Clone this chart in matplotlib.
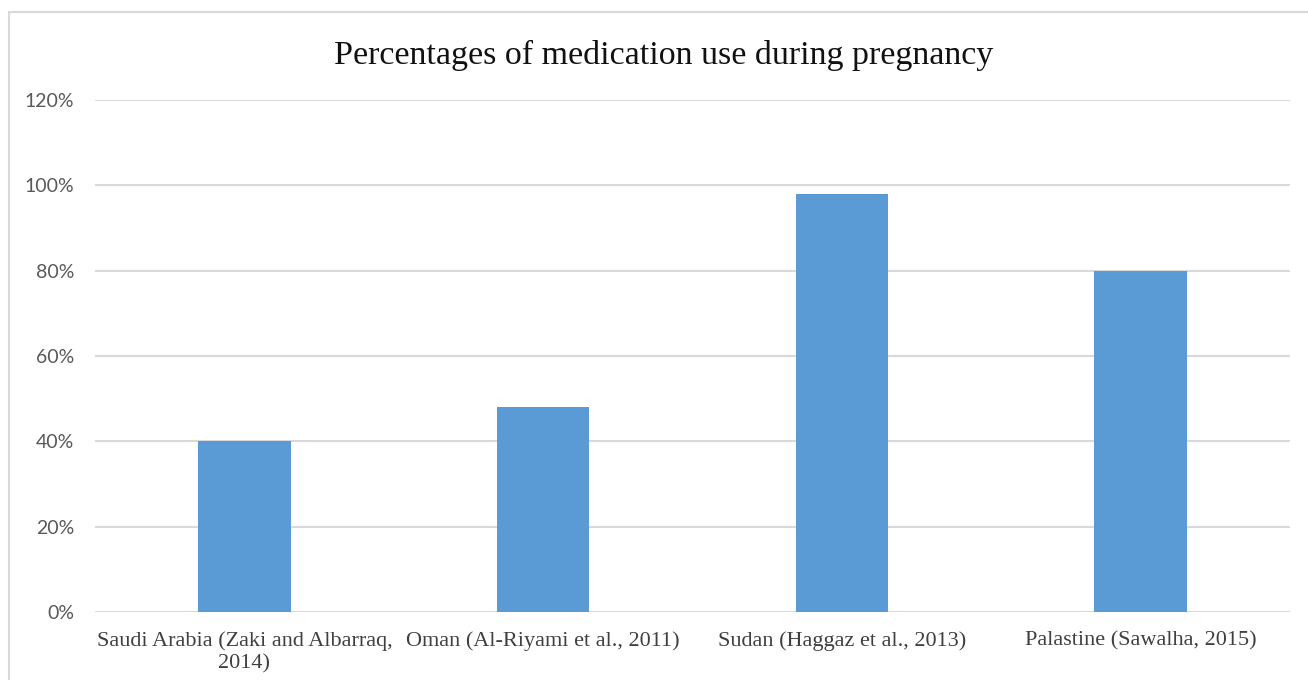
import matplotlib.pyplot as plt
from matplotlib.patches import Rectangle
from matplotlib.ticker import PercentFormatter

studies = ['Saudi Arabia (Zaki and Albarraq,\n2014)', 'Oman (Al-Riyami et al., 2011)',
           'Sudan (Haggaz et al., 2013)', 'Palastine (Sawalha, 2015)']
use_pct = [40, 48, 98, 80]
y_ticks = [0, 20, 40, 60, 80, 100, 120]

fig = plt.figure(figsize=(13.08, 6.8), dpi=100)
ax = fig.add_axes([95 / 1308, 0.1, 1195 / 1308, 0.753])

# outer chart frame, cut off at the right and bottom
fig.patches.append(Rectangle((9 / 1308, -0.05), 1.1, 1 - 12 / 680 + 0.05,
                             transform=fig.transFigure, fill=False,
                             edgecolor='#d9d9d9', linewidth=1.5))

x = range(len(studies))
ax.bar(x, use_pct, width=0.31, color='#5b9bd5', zorder=2)

ax.set_xlim(-0.5, len(studies) - 0.5)
ax.set_ylim(0, 120)
ax.set_yticks(y_ticks)
ax.yaxis.set_major_formatter(PercentFormatter(decimals=0))
ax.grid(axis='y', color='#d9d9d9', linewidth=1.5, zorder=0)
ax.set_axisbelow(True)
for s in ax.spines.values():
    s.set_visible(False)
ax.tick_params(length=0)
ax.tick_params(axis='y', pad=15, labelsize=14, labelcolor='#595959')
ax.set_yticklabels([f'{v}%' for v in y_ticks], fontfamily='Lato')
ax.set_xticks(list(x))
ax.set_xticklabels(studies, fontfamily='Liberation Serif', fontsize=16,
                   color='#404040', linespacing=1.2)
ax.tick_params(axis='x', pad=14)

fig.text(664 / 1308, 1 - 55 / 680, 'Percentages of medication use during pregnancy',
         ha='center', va='center', fontsize=24.5, fontfamily='Liberation Serif',
         color='#111111')

fig.savefig('out.png', dpi=100)
